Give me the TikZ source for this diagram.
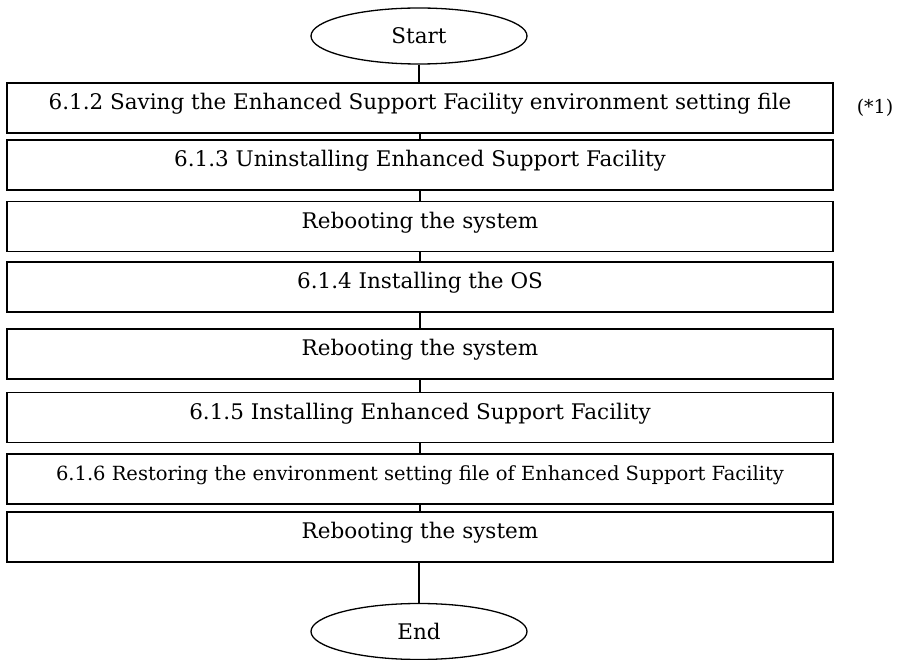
\documentclass[tikz,border=0pt]{standalone}
\usepackage{fontspec}
\setmainfont{DejaVu Serif}
\usetikzlibrary{shapes.geometric}

\tikzstyle{stepbox}=[draw, line width=1.2pt, minimum width=826pt, minimum height=50pt, inner sep=0pt, text height=27pt, text depth=23pt, font=\fontsize{21.5}{25}\selectfont]
\tikzstyle{terminal}=[draw, ellipse, line width=1.3pt, minimum width=216pt, minimum height=56pt, inner sep=0pt, font=\fontsize{21.5}{25}\selectfont]
\tikzstyle{link}=[line width=1.2pt]

\begin{document}
\begin{tikzpicture}[x=1pt, y=-1pt]
      \useasboundingbox (0, 0) rectangle (898, 660);

      \node[terminal] (start) at (419, 36) {Start};
      \node[stepbox] (save) at (420, 108) {6.1.2 Saving the Enhanced Support Facility environment setting file};
      \node[stepbox] (uninst) at (420, 165) {6.1.3 Uninstalling Enhanced Support Facility};
      \node[stepbox] (reboota) at (420, 226.5) {Rebooting the system};
      \node[stepbox] (os) at (420, 287) {6.1.4 Installing the OS};
      \node[stepbox] (rebootb) at (420, 354) {Rebooting the system};
      \node[stepbox] (inst) at (420, 417.5) {6.1.5 Installing Enhanced Support Facility};
      \node[stepbox, font=\fontsize{19.5}{23}\selectfont] (restore) at (420, 479) {6.1.6 Restoring the environment setting file of Enhanced Support Facility};
      \node[stepbox] (rebootc) at (420, 537) {Rebooting the system};
      \node[terminal] (end) at (419, 631.5) {End};
      \node[font=\fontsize{19}{23}\selectfont] (note) at (875, 108) {(*1)};

      \draw[link] (start) -- (start |- save.north);
      \draw[link] (save) -- (uninst);
      \draw[link] (uninst) -- (reboota);
      \draw[link] (reboota) -- (os);
      \draw[link] (os) -- (rebootb);
      \draw[link] (rebootb) -- (inst);
      \draw[link] (inst) -- (restore);
      \draw[link] (restore) -- (rebootc);
      \draw[link] (rebootc.south -| end) -- (end);
    \end{tikzpicture}
\end{document}
